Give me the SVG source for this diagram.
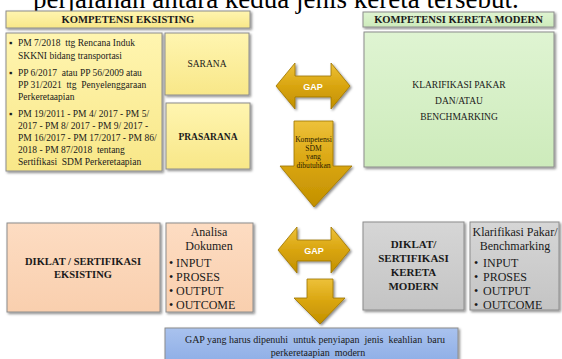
<svg xmlns="http://www.w3.org/2000/svg" width="562" height="359" viewBox="0 0 562 359">
<defs>
<linearGradient id="gY" x1="0" y1="0" x2="0" y2="1"><stop offset="0" stop-color="#fff5b0"/><stop offset="1" stop-color="#f8e788"/></linearGradient>
<linearGradient id="gG" x1="0" y1="0" x2="0" y2="1"><stop offset="0" stop-color="#dff4d2"/><stop offset="1" stop-color="#cdebbb"/></linearGradient>
<linearGradient id="gO" x1="0" y1="0" x2="0" y2="1"><stop offset="0" stop-color="#fddcc2"/><stop offset="1" stop-color="#f9cfae"/></linearGradient>
<linearGradient id="gR" x1="0" y1="0" x2="0" y2="1"><stop offset="0" stop-color="#d6d6d6"/><stop offset="1" stop-color="#c4c4c4"/></linearGradient>
<linearGradient id="gB" x1="0" y1="0" x2="0" y2="1"><stop offset="0" stop-color="#a9c2ee"/><stop offset="1" stop-color="#8eaee6"/></linearGradient>
<linearGradient id="gA" x1="0" y1="0" x2="0" y2="1"><stop offset="0" stop-color="#edc13a"/><stop offset="0.5" stop-color="#d9a50f"/><stop offset="1" stop-color="#c29000"/></linearGradient>
<filter id="sh" x="-10%" y="-10%" width="130%" height="130%"><feDropShadow dx="1.5" dy="1.5" stdDeviation="0.8" flood-color="#000" flood-opacity="0.45"/></filter>
</defs>
<style>
.box{stroke:#8c8c8c;stroke-width:1;filter:url(#sh)}
.y{fill:url(#gY)} .g{fill:url(#gG)} .o{fill:url(#gO)} .r{fill:url(#gR)} .b{fill:url(#gB)}
.arr{fill:url(#gA);stroke:#9c7400;stroke-width:0.8;filter:url(#sh)}
text{font-family:"Liberation Serif","Times New Roman",serif;fill:#1a1a1a}
.hd{font-size:10.6px;font-weight:bold;text-anchor:middle}
.sm{font-size:9.5px;white-space:pre}
.md{font-size:9.5px;text-anchor:middle}
.mb{font-size:10.5px;font-weight:bold;text-anchor:middle}
.lg{font-size:12px}
.lgc{font-size:12px;text-anchor:middle}
.bb{font-size:11px;font-weight:bold;text-anchor:middle}
.gap{font-family:"Liberation Sans",Arial,sans-serif;font-size:9px;font-weight:bold;fill:#fff;text-anchor:middle}
.tiny{font-size:7.6px;text-anchor:middle;fill:#2a2000}
.bl{font-size:10px;text-anchor:middle;white-space:pre}
.title{font-size:27px;fill:#000}
</style>

<text class="title" x="33" y="8">perjalanan antara kedua jenis kereta tersebut.</text>

<g id="hdr-eksisting"><rect class="box y" x="6" y="11" width="244" height="17"/><text class="hd" x="128" y="23">KOMPETENSI EKSISTING</text></g>
<g id="hdr-modern"><rect class="box g" x="363" y="12" width="191" height="15"/><text class="hd" x="458.5" y="23">KOMPETENSI KERETA MODERN</text></g>

<g id="regulasi"><rect class="box y" x="6" y="33" width="156" height="138"/>
<text class="sm" x="9" y="46">▪</text><text class="sm" x="18" y="46">PM 7/2018  ttg Rencana Induk</text>
<text class="sm" x="18" y="59">SKKNI bidang transportasi</text>
<text class="sm" x="9" y="76">▪</text><text class="sm" x="18" y="76">PP 6/2017  atau PP 56/2009 atau</text>
<text class="sm" x="18" y="88">PP 31/2021  ttg  Penyelenggaraan</text>
<text class="sm" x="18" y="100">Perkeretaapian</text>
<text class="sm" x="9" y="117">▪</text><text class="sm" x="18" y="117">PM 19/2011 - PM 4/ 2017 - PM 5/</text>
<text class="sm" x="18" y="129">2017 - PM 8/ 2017 - PM 9/ 2017 -</text>
<text class="sm" x="18" y="141">PM 16/2017 - PM 17/2017 - PM 86/</text>
<text class="sm" x="18" y="153">2018 - PM 87/2018  tentang</text>
<text class="sm" x="18" y="165">Sertifikasi  SDM Perkeretaapian</text>
</g>

<g id="sarana"><rect class="box y" x="165" y="33" width="84" height="62"/><text class="md" x="207" y="67">SARANA</text></g>
<g id="prasarana"><rect class="box y" x="166" y="103" width="84" height="66"/><text class="md" x="208" y="140" font-weight="bold">PRASARANA</text></g>

<g id="klarifikasi"><rect class="box g" x="364" y="32" width="190" height="135"/>
<text class="md" x="459" y="88">KLARIFIKASI PAKAR</text>
<text class="md" x="459" y="104">DAN/ATAU</text>
<text class="md" x="459" y="120">BENCHMARKING</text></g>

<g id="diklat-eksisting"><rect class="box o" x="7" y="223" width="153" height="89"/>
<text class="mb" x="83" y="265">DIKLAT / SERTIFIKASI</text>
<text class="mb" x="83" y="278">EKSISTING</text></g>

<g id="analisa"><rect class="box o" x="166" y="223" width="87" height="89"/>
<text class="lgc" x="209" y="236">Analisa</text>
<text class="lgc" x="209" y="250">Dokumen</text>
<text class="lg" x="169" y="267">•</text><text class="lg" x="176" y="267">INPUT</text>
<text class="lg" x="169" y="281">•</text><text class="lg" x="176" y="281">PROSES</text>
<text class="lg" x="169" y="295">•</text><text class="lg" x="176" y="295">OUTPUT</text>
<text class="lg" x="169" y="309">•</text><text class="lg" x="176" y="309">OUTCOME</text></g>

<g id="diklat-modern"><rect class="box r" x="363" y="222" width="101" height="88"/>
<text class="bb" x="413.5" y="248">DIKLAT/</text>
<text class="bb" x="413.5" y="262">SERTIFIKASI</text>
<text class="bb" x="413.5" y="276">KERETA</text>
<text class="bb" x="413.5" y="290">MODERN</text></g>

<g id="klarifikasi-bench"><rect class="box r" x="470" y="222" width="89" height="88"/>
<text class="lgc" x="515" y="236">Klarifikasi Pakar/</text>
<text class="lgc" x="515" y="250">Benchmarking</text>
<text class="lg" x="474" y="267">•</text><text class="lg" x="483" y="267">INPUT</text>
<text class="lg" x="474" y="281">•</text><text class="lg" x="483" y="281">PROSES</text>
<text class="lg" x="474" y="295">•</text><text class="lg" x="483" y="295">OUTPUT</text>
<text class="lg" x="474" y="309">•</text><text class="lg" x="483" y="309">OUTCOME</text></g>

<g id="gap-hasil"><rect class="box b" x="165" y="328" width="293" height="35"/>
<text class="bl" x="315" y="343">GAP yang harus dipenuhi  untuk penyiapan  jenis  keahlian  baru</text>
<text class="bl" x="318" y="356">perkeretaapian  modern</text></g>

<g id="connectors">
<g id="gap-atas"><path class="arr" d="M276,86 L295,63 L295,76 L331,76 L331,63 L350,86 L331,109 L331,97 L295,97 L295,109 Z"/><text class="gap" x="313" y="89.5">GAP</text></g>
<g id="kompetensi-sdm"><path class="arr" d="M294,121 L333,121 L333,166 L352,166 L314,207 L280,166 L294,166 Z"/>
<text class="tiny" x="313.5" y="142">Kompetensi</text>
<text class="tiny" x="313.5" y="151">SDM</text>
<text class="tiny" x="313.5" y="159">yang</text>
<text class="tiny" x="313.5" y="168">dibutuhkan</text></g>
<g id="gap-bawah"><path class="arr" d="M278,250 L297,227 L297,240 L331,240 L331,227 L350,250 L331,273 L331,261 L297,261 L297,273 Z"/><text class="gap" x="314" y="253.5">GAP</text></g>
<g id="ke-hasil"><path class="arr" d="M307,279 L333,279 L333,298 L345,298 L320,324 L294,298 L307,298 Z"/></g>
</g>
</svg>
